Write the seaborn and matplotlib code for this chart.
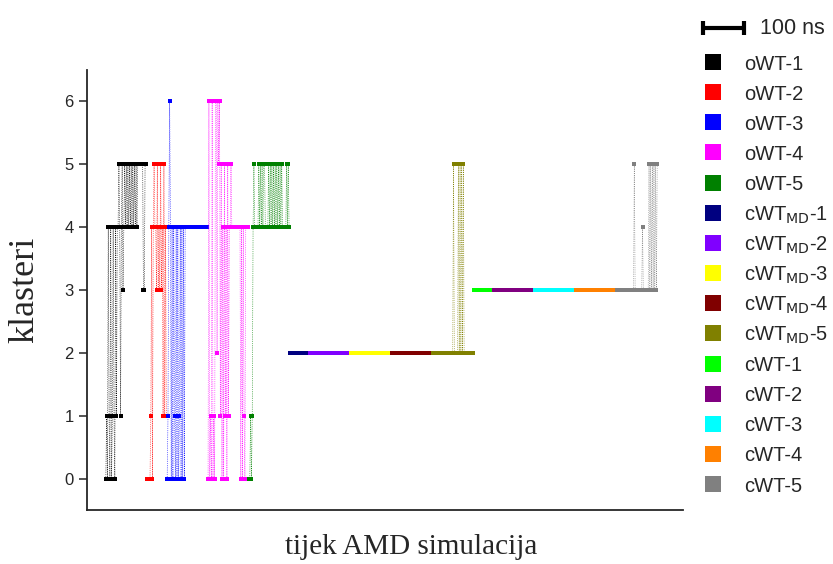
import matplotlib
matplotlib.use("Agg")
import matplotlib.pyplot as plt
import matplotlib.transforms as mtransforms
from matplotlib.lines import Line2D
import numpy as np
import pandas as pd
import seaborn as sns

# one character = one frame of 2 ns, value = cluster index
frame_ns = 2

names = ["oWT-1", "oWT-2", "oWT-3", "oWT-4", "oWT-5",
         "cWT_MD-1", "cWT_MD-2", "cWT_MD-3", "cWT_MD-4", "cWT_MD-5",
         "cWT-1", "cWT-2", "cWT-3", "cWT-4", "cWT-5"]

legend_labels = ["oWT-1", "oWT-2", "oWT-3", "oWT-4", "oWT-5",
                 r"cWT$_{\mathrm{MD}}$-1", r"cWT$_{\mathrm{MD}}$-2",
                 r"cWT$_{\mathrm{MD}}$-3", r"cWT$_{\mathrm{MD}}$-4",
                 r"cWT$_{\mathrm{MD}}$-5",
                 "cWT-1", "cWT-2", "cWT-3", "cWT-4", "cWT-5"]

colors = ["#000000", "#ff0000", "#0000ff", "#ff00ff", "#008000",
          "#000080", "#8000ff", "#ffff00", "#800000", "#808000",
          "#00ff00", "#800080", "#00ffff", "#ff8000", "#808080"]

owt_1 = "010410401410414" "45414534" "5454545454545454" "55555553355"
owt_2 = "00000140" "4544" "35343534" "15141"
owt_3 = "0146404041040401404040" "4444444444444444444444444444"
owt_4 = "0601060106" "6265615" "0405140514" "4544444444444" "0404104444"
owt_5 = "0010145444" "44" "54545455" "4444" "54545454545454545" "44444" "5454"
cwt_md_1 = "2222222222222222222222222"
cwt_md_2 = "22222222222222222222222222222222222222222222222222"
cwt_md_3 = "22222222222222222222222222222222222222222222222222"
cwt_md_4 = "22222222222222222222222222222222222222222222222222"
cwt_md_5 = "2222222222222222222222222" "5" "22222" "52525252" "22222222222"
cwt_1 = "3333333333333333333333333"
cwt_2 = "33333333333333333333333333333333333333333333333333"
cwt_3 = "33333333333333333333333333333333333333333333333333"
cwt_4 = "33333333333333333333333333333333333333333333333333"
cwt_5 = "333333333333333333333" "5" "333333333" "4" "3333333" "53535353535"

traces = [owt_1, owt_2, owt_3, owt_4, owt_5,
          cwt_md_1, cwt_md_2, cwt_md_3, cwt_md_4, cwt_md_5,
          cwt_1, cwt_2, cwt_3, cwt_4, cwt_5]

# trajectories are laid one after another along the time axis
rows = []
t0 = 0
for name, trace in zip(names, traces):
    for i, c in enumerate(trace):
        rows.append({"vrijeme": t0 + i * frame_ns, "klaster": int(c), "uzorak": name})
    t0 += len(trace) * frame_ns
df = pd.DataFrame(rows)

sns.set_style("ticks")
plt.rcParams["font.family"] = ["Liberation Sans", "DejaVu Sans"]
plt.rcParams["mathtext.default"] = "regular"

fig = plt.figure(figsize=(8.33, 5.64), dpi=100)
ax = fig.add_axes([87 / 833, 54 / 564, 596 / 833, 440 / 564])

sns.lineplot(
    data=df, x="vrijeme", y="klaster", hue="uzorak", hue_order=names,
    palette=colors, estimator=None, sort=False, legend=False,
    marker="s", markersize=3, markeredgewidth=0,
    linestyle=":", linewidth=0.5, ax=ax,
)

ax.set_xlim(-46, 1411)
ax.set_ylim(-0.5, 6.5)
ax.set_yticks(range(7))
ax.set_xticks([])
ax.tick_params(axis="y", labelsize=12, length=6, width=1.1, direction="out")
for side in ["top", "right"]:
    ax.spines[side].set_visible(False)
for side in ["left", "bottom"]:
    ax.spines[side].set_linewidth(1.3)
ax.set_xlabel("")
ax.set_ylabel("")

fig.text(25 / 833, 1 - 290 / 564, "klasteri", family="Liberation Serif",
         fontsize=26, rotation=90, ha="center", va="center")
fig.text(411 / 833, 1 - 547 / 564, "tijek AMD simulacija",
         family="Liberation Serif", fontsize=21, ha="center", va="center")

# 100 ns scale bar, drawn in data units along x
trans = mtransforms.blended_transform_factory(ax.transData, ax.transAxes)
ax.plot([1460, 1560], [1.095, 1.095], color="black", lw=3, transform=trans,
        clip_on=False, solid_capstyle="butt")
ax.plot([1460, 1560], [1.095, 1.095], color="black", lw=0, marker="|",
        markersize=10, markeredgewidth=3, transform=trans, clip_on=False)
ax.text(1600, 1.095, "100 ns", transform=trans, fontsize=15.5,
        ha="left", va="center")

# legend rows, evenly spaced
for i, (lab, c) in enumerate(zip(legend_labels, colors)):
    yc = 62 + i * 30.15
    fig.add_artist(Line2D([713 / 833], [1 - yc / 564], marker="s",
                          markersize=11, markeredgewidth=0, color=c,
                          linestyle="none", transform=fig.transFigure))
    fig.text(744 / 833, 1 - (yc + 7.5) / 564, lab, fontsize=14.5,
             ha="left", va="baseline")

fig.savefig("out.png", dpi=100)
